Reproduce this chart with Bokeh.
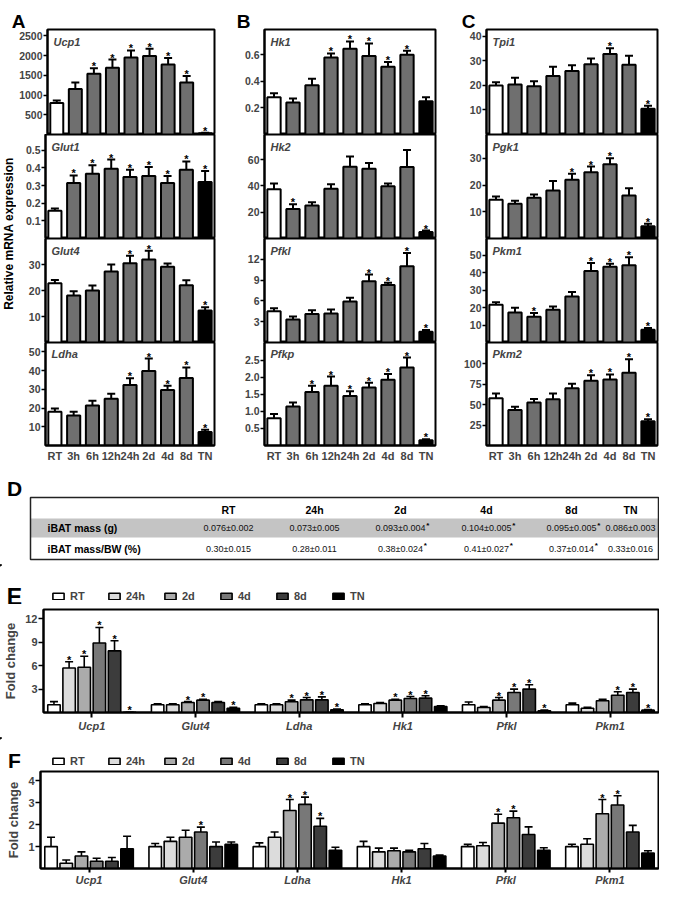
import numpy as np
from bokeh.plotting import figure
from bokeh.models import (ColumnDataSource, FactorRange, Range1d, FixedTicker, Whisker, TeeHead,
                          Label, Legend, LegendItem, NumeralTickFormatter)
from bokeh.layouts import column, row
from bokeh.transform import dodge
from bokeh.embed import file_html
from bokeh.resources import INLINE
from bokeh.core.properties import value

FONT = "Liberation Sans"

# ---------------- data: panels A-C ----------------
times = ["RT", "3h", "6h", "12h", "24h", "2d", "4d", "8d", "TN"]

ucp1 = [800, 1150, 1540, 1690, 1950, 1990, 1775, 1320, 30]
ucp1_err = [60, 170, 140, 210, 180, 180, 160, 160, 15]
ucp1_sig = [0, 0, 1, 1, 1, 1, 1, 1, 1]

glut1 = [0.158, 0.315, 0.368, 0.396, 0.349, 0.355, 0.315, 0.390, 0.320]
glut1_err = [0.012, 0.043, 0.047, 0.052, 0.041, 0.050, 0.040, 0.047, 0.063]
glut1_sig = [0, 1, 1, 1, 1, 1, 1, 1, 1]

glut4 = [22.8, 18.1, 20.0, 27.3, 30.5, 31.9, 29.1, 22.0, 12.3]
glut4_err = [1.2, 1.6, 1.9, 2.7, 2.9, 3.4, 1.3, 1.9, 1.3]
glut4_sig = [0, 0, 0, 0, 1, 1, 0, 0, 1]

ldha = [18.0, 16.0, 21.3, 25.0, 32.3, 39.8, 29.6, 36.1, 7.2]
ldha_err = [1.8, 2.0, 2.6, 2.7, 3.6, 6.6, 2.3, 5.6, 1.2]
ldha_sig = [0, 0, 0, 0, 1, 1, 1, 1, 1]

hk1 = [0.28, 0.24, 0.37, 0.58, 0.645, 0.59, 0.51, 0.60, 0.25]
hk1_err = [0.03, 0.03, 0.05, 0.03, 0.055, 0.095, 0.035, 0.03, 0.03]
hk1_sig = [0, 0, 0, 1, 1, 1, 1, 1, 0]

hk2 = [37.5, 22.4, 25.0, 37.7, 54.5, 53.0, 39.7, 54.3, 5.0]
hk2_err = [4.3, 3.6, 2.5, 3.6, 7.7, 4.3, 2.1, 13.0, 1.0]
hk2_sig = [0, 1, 0, 0, 0, 0, 0, 0, 1]

pfkl = [4.5, 3.3, 4.1, 4.2, 5.9, 8.85, 8.3, 11.0, 1.55]
pfkl_err = [0.45, 0.45, 0.55, 0.55, 0.55, 0.95, 0.3, 1.9, 0.25]
pfkl_sig = [0, 0, 0, 0, 0, 1, 1, 1, 1]

pfkp = [0.80, 1.14, 1.57, 1.75, 1.45, 1.70, 1.93, 2.29, 0.155]
pfkp_err = [0.12, 0.12, 0.18, 0.27, 0.14, 0.14, 0.17, 0.29, 0.03]
pfkp_sig = [0, 0, 1, 1, 1, 1, 1, 1, 1]

tpi1 = [19.9, 20.3, 19.6, 23.8, 25.8, 28.6, 32.7, 28.4, 10.5]
tpi1_err = [1.3, 2.8, 2.1, 3.8, 2.4, 2.3, 2.4, 3.6, 1.2]
tpi1_sig = [0, 0, 0, 0, 0, 0, 1, 0, 1]

pgk1 = [14.5, 13.0, 15.25, 18.0, 22.0, 24.75, 27.75, 16.1, 4.6]
pgk1_err = [1.25, 1.1, 1.25, 3.5, 2.25, 2.15, 2.25, 2.65, 0.9]
pgk1_sig = [0, 0, 0, 0, 1, 1, 1, 0, 1]

pkm1 = [21.6, 17.2, 14.8, 18.8, 26.4, 41.0, 43.5, 44.3, 7.3]
pkm1_err = [1.5, 2.7, 2.2, 1.9, 2.6, 4.6, 1.7, 4.7, 1.0]
pkm1_sig = [0, 0, 1, 0, 0, 1, 1, 1, 1]

pkm2 = [57.8, 43.4, 52.6, 56.6, 69.9, 79.1, 80.7, 89.0, 29.7]
pkm2_err = [5.7, 4.0, 4.4, 6.9, 5.6, 6.9, 6.3, 16.6, 2.3]
pkm2_sig = [0, 0, 0, 0, 0, 1, 1, 1, 1]

# axis limits and tick labels
ucp1_ticks = [500, 1000, 1500, 2000, 2500]
glut1_ticks = [0.1, 0.2, 0.3, 0.4, 0.5]
glut4_ticks = [10, 20, 30]
ldha_ticks = [10, 20, 30, 40, 50]
hk1_ticks = [0.2, 0.4, 0.6]
hk2_ticks = [20, 40, 60]
pfkl_ticks = [3, 6, 9, 12]
pfkp_ticks = [0.5, 1.0, 1.5, 2.0, 2.5]
tpi1_ticks = [10, 20, 30, 40]
pgk1_ticks = [10, 20, 30]
pkm1_ticks = [10, 20, 30, 40, 50]
pkm2_ticks = [25, 50, 75, 100]
y_max = {"Ucp1": 2660, "Glut1": 0.59, "Glut4": 40, "Ldha": 55,
         "Hk1": 0.79, "Hk2": 79, "Pfkl": 15, "Pfkp": 3.02,
         "Tpi1": 42.7, "Pgk1": 38.9, "Pkm1": 59.7, "Pkm2": 126}

# ---------------- data: table D ----------------
d_cols = ["RT", "24h", "2d", "4d", "8d", "TN"]
d_rows = ["iBAT mass (g)", "iBAT mass/BW (%)"]
mass = ["0.076±0.002", "0.073±0.005", "0.093±0.004", "0.104±0.005", "0.095±0.005", "0.086±0.003"]
mass_sig = [0, 0, 1, 1, 1, 0]
ratio = ["0.30±0.015", "0.28±0.011", "0.38±0.024", "0.41±0.027", "0.37±0.014", "0.33±0.016"]
ratio_sig = [0, 0, 1, 1, 1, 0]

# ---------------- data: panels E, F ----------------
genes = ["Ucp1", "Glut4", "Ldha", "Hk1", "Pfkl", "Pkm1"]
times_ef = ["RT", "24h", "2d", "4d", "8d", "TN"]

e_rt = [1.0, 1.0, 1.0, 1.0, 1.0, 1.0]
e_rt_err = [0.4, 0.12, 0.12, 0.12, 0.35, 0.2]
e_24h = [5.7, 1.0, 1.0, 1.15, 0.64, 0.55]
e_24h_err = [0.8, 0.12, 0.12, 0.13, 0.13, 0.13]
e_2d = [5.8, 1.28, 1.37, 1.58, 1.58, 1.5]
e_2d_err = [1.4, 0.12, 0.21, 0.12, 0.34, 0.2]
e_4d = [8.9, 1.58, 1.62, 1.8, 2.56, 2.22]
e_4d_err = [2.0, 0.12, 0.3, 0.25, 0.44, 0.43]
e_8d = [7.9, 1.28, 1.62, 1.84, 3.0, 2.56]
e_8d_err = [1.3, 0.12, 0.38, 0.3, 0.55, 0.44]
e_tn = [0.02, 0.55, 0.35, 0.77, 0.21, 0.3]
e_tn_err = [0.02, 0.13, 0.1, 0.08, 0.09, 0.08]
e_sig = [[0, 0, 0, 0, 0, 0], [1, 0, 0, 0, 0, 0], [1, 1, 1, 1, 1, 0],
         [1, 1, 1, 1, 1, 1], [1, 0, 1, 1, 1, 1], [1, 1, 1, 0, 1, 1]]
e_ticks = [3, 6, 9, 12]
e_ymax = 13.2

f_rt = [1.0, 1.0, 1.0, 1.0, 1.0, 1.0]
f_rt_err = [0.43, 0.14, 0.17, 0.24, 0.1, 0.11]
f_24h = [0.24, 1.24, 1.43, 0.76, 1.04, 1.11]
f_24h_err = [0.15, 0.19, 0.24, 0.17, 0.15, 0.25]
f_2d = [0.57, 1.43, 2.65, 0.81, 2.07, 2.5]
f_2d_err = [0.19, 0.32, 0.5, 0.12, 0.41, 0.65]
f_4d = [0.33, 1.67, 2.93, 0.76, 2.32, 2.9]
f_4d_err = [0.14, 0.22, 0.33, 0.07, 0.3, 0.42]
f_8d = [0.33, 1.0, 1.93, 0.9, 1.55, 1.67]
f_8d_err = [0.17, 0.21, 0.36, 0.24, 0.35, 0.3]
f_tn = [0.9, 1.1, 0.83, 0.57, 0.83, 0.71]
f_tn_err = [0.57, 0.11, 0.14, 0.04, 0.12, 0.1]
f_sig = [[0, 0, 0, 0, 0, 0], [0, 0, 0, 0, 0, 0], [0, 0, 1, 0, 1, 1],
         [0, 1, 1, 0, 1, 1], [0, 0, 1, 0, 0, 0], [0, 0, 0, 0, 0, 0]]
f_ticks = [1, 2, 3, 4]
f_ymax = 4.43

# ---------------- styles ----------------
bar_colors = ["white"] + ["#6f6f6f"] * 7 + ["black"]
ef_colors = ["white", "#dcdcdc", "#ababab", "#787878", "#3c3c3c", "black"]


def blank_fig(w, h, top_y):
    """Figure whose data units are page pixels: x from 8, y measured downward (stored negated)."""
    p = figure(width=w, height=h, x_range=Range1d(8, 8 + w),
               y_range=Range1d(-(top_y + h), -top_y), output_backend="svg",
               toolbar_location=None, x_axis_location=None, y_axis_location=None,
               min_border=0, outline_line_color=None, title_location=None, frame_align=False)
    p.grid.grid_line_color = None
    return p


def ny(vals):
    return [-v for v in vals]


def style_y(p, ticks, fmt=None, fs="10.5px", tick_out=4):
    ax = p.yaxis[0]
    ax.ticker = FixedTicker(ticks=ticks)
    if fmt:
        ax.formatter = NumeralTickFormatter(format=fmt)
    ax.major_label_text_font = FONT
    ax.major_label_text_font_size = fs
    ax.major_label_text_font_style = "bold"
    ax.major_tick_out = tick_out
    ax.major_tick_in = 0
    ax.major_tick_line_width = 1.5
    ax.minor_tick_line_color = None
    ax.axis_line_width = 2
    ax.major_label_standoff = 1


def stack_fig(width, height, bl, br, bt, bb, gene, vals, errs, sig, ticks, fmt=None,
              show_x=False):
    fh = height - bt - bb
    p = figure(width=width, height=height, x_range=FactorRange(*times, range_padding=0),
               y_range=Range1d(0, y_max[gene]), output_backend="svg", toolbar_location=None,
               x_axis_location="below" if show_x else None, y_axis_location="left",
               min_border_left=bl, min_border_right=br, min_border_top=bt, min_border_bottom=bb,
               title_location=None, frame_align=False)
    up = [v + e for v, e in zip(vals, errs)]
    src = ColumnDataSource(dict(x=times, top=vals, up=up, color=bar_colors))
    p.vbar(x="x", top="top", width=0.7, fill_color="color", line_color="black",
           line_width=2, source=src)
    p.add_layout(Whisker(base="x", lower="top", upper="up", source=src, line_color="black",
                         line_width=2, level="annotation",
                         upper_head=TeeHead(size=8, line_width=2, line_color="black"),
                         lower_head=None))
    sx = [t for t, s in zip(times, sig) if s]
    sy = [u for u, s in zip(up, sig) if s]
    p.text(x=sx, y=sy, text=["*"] * len(sx), text_align="center",
           text_baseline="alphabetic", y_offset=-2, text_font_size="11px",
           text_font_style="bold", text_font=value(FONT), text_color="black")
    p.add_layout(Label(x=6, y=fh - 6, x_units="screen", y_units="screen", text=gene,
                       text_baseline="top", text_align="left", text_font=FONT,
                       text_font_size="11px", text_font_style="bold italic"))
    p.grid.grid_line_color = None
    p.outline_line_color = "black"
    p.outline_line_width = 2
    p.outline_line_alpha = 1
    style_y(p, ticks, fmt)
    if show_x:
        ax = p.xaxis[0]
        ax.major_tick_line_color = None
        ax.major_tick_out = 0
        ax.major_tick_in = 0
        ax.axis_line_width = 2
        ax.major_label_standoff = 4
        ax.major_label_text_font = FONT
        ax.major_label_text_font_size = "11px"
        ax.major_label_text_font_style = "bold"
    return p


def make_stack(width, bl, br, specs):
    heights = [106, 104, 104, 122]
    tops = [1, 0, 0, 0]
    bots = [0, 0, 0, 18]
    figs = []
    for i, (gene, vals, errs, sig, ticks, fmt) in enumerate(specs):
        figs.append(stack_fig(width, heights[i], bl, br, tops[i], bots[i], gene, vals, errs,
                              sig, ticks, fmt, show_x=(i == 3)))
    return column(*figs, spacing=0)


colA = make_stack(206, 29, 8, [
    ("Ucp1", ucp1, ucp1_err, ucp1_sig, ucp1_ticks, None),
    ("Glut1", glut1, glut1_err, glut1_sig, glut1_ticks, None),
    ("Glut4", glut4, glut4_err, glut4_sig, glut4_ticks, None),
    ("Ldha", ldha, ldha_err, ldha_sig, ldha_ticks, None)])
colB = make_stack(215, 42, 2, [
    ("Hk1", hk1, hk1_err, hk1_sig, hk1_ticks, None),
    ("Hk2", hk2, hk2_err, hk2_sig, hk2_ticks, None),
    ("Pfkl", pfkl, pfkl_err, pfkl_sig, pfkl_ticks, None),
    ("Pfkp", pfkp, pfkp_err, pfkp_sig, pfkp_ticks, "0.0")])
colC = make_stack(222, 49, 2, [
    ("Tpi1", tpi1, tpi1_err, tpi1_sig, tpi1_ticks, None),
    ("Pgk1", pgk1, pgk1_err, pgk1_sig, pgk1_ticks, None),
    ("Pkm1", pkm1, pkm1_err, pkm1_sig, pkm1_ticks, None),
    ("Pkm2", pkm2, pkm2_err, pkm2_sig, pkm2_ticks, None)])

# y label for the A-C block
labfig = figure(width=16, height=436, x_range=Range1d(0, 16), y_range=Range1d(0, 436),
                output_backend="svg", toolbar_location=None, x_axis_location=None,
                y_axis_location=None, min_border=0, outline_line_color=None,
                title_location=None, frame_align=False)
labfig.grid.grid_line_color = None
labfig.text(x=[8], y=[231], text=["Relative mRNA expression"], angle=np.pi / 2,
            text_align="center", text_baseline="middle", text_font=value(FONT),
            text_font_size="12px", text_font_style="bold", text_color="black")

# panel letters A, B, C
head = blank_fig(659, 28, 8)
head.text(x=[26, 251, 476], y=ny([29, 29, 29]), text=["A", "B", "C"], text_align="center",
          text_baseline="alphabetic", text_font=value(FONT), text_font_size="19px",
          text_font_style="bold", text_color="black")

top_row = row(labfig, colA, colB, colC, spacing=0)

# ---------------- table D ----------------
dfig = blank_fig(659, 100, 472)
dfig.text(x=[22], y=ny([496]), text=["D"], text_align="center", text_baseline="alphabetic",
          text_font=value(FONT), text_font_size="21px", text_font_style="bold")
box_l, box_r, box_t, box_b = 38, 666, 505, 567
band_t, band_b = 526, 545
col_x = [236, 322, 408, 494, 579, 638]
row_y = [535.5, 556]
dfig.quad(left=[box_l], right=[box_r], top=ny([band_t]), bottom=ny([band_b]),
          fill_color="#c4c4c4", line_color=None)
dfig.quad(left=[box_l], right=[box_r], top=ny([box_t]), bottom=ny([box_b]), fill_color=None,
          line_color="#222222", line_width=1.5)
dfig.text(x=col_x, y=ny([517] * 6), text=d_cols, text_align="center", text_baseline="middle",
          text_font=value(FONT), text_font_size="10.5px", text_font_style="bold")
dfig.text(x=[55, 55], y=ny(row_y), text=d_rows, text_align="left", text_baseline="middle",
          text_font=value(FONT), text_font_size="10.5px", text_font_style="bold")


def str_w(s, fs=10.0):
    w = 0
    for c in s:
        w += 5.56 if c.isdigit() else (2.78 if c == "." else 5.84)
    return w * fs / 10


VAL_FS = 9.0
for vals, sig, yy in [(mass, mass_sig, row_y[0]), (ratio, ratio_sig, row_y[1])]:
    dfig.text(x=col_x, y=ny([yy] * 6), text=vals, text_align="center", text_baseline="middle",
              text_font=value(FONT), text_font_size=f"{VAL_FS}px", text_color="#111111")
    sx = [cx + str_w(v, VAL_FS) / 2 + 0.5 for cx, v, s in zip(col_x, vals, sig) if s]
    dfig.text(x=sx, y=ny([yy - 3] * len(sx)), text=["*"] * len(sx), text_align="left",
              text_baseline="middle", text_font=value(FONT), text_font_size="8px",
              text_font_style="bold")


# ---------------- panels E, F ----------------
def fold_header(height, letter, letter_size, letter_base, top_y, legend_vy):
    h = blank_fig(659, height, top_y)
    h.text(x=[22], y=ny([letter_base]), text=[letter], text_align="center",
           text_baseline="alphabetic", text_font=value(FONT), text_font_size=letter_size,
           text_font_style="bold")
    items = []
    for k, t in enumerate(times_ef):
        # off-screen swatch carrier so that the legend can draw its box
        r = h.vbar(x=[-100], top=ny([top_y]), bottom=ny([top_y + 1]), width=1,
                   fill_color=ef_colors[k], line_color="black", line_width=1.6)
        items.append(LegendItem(label=t, renderers=[r], index=0))
    legend = Legend(items=items, location=(51, legend_vy), orientation="horizontal",
                    glyph_width=14, glyph_height=8, label_standoff=5, spacing=17, padding=0,
                    margin=0, label_height=12, label_width=20, border_line_alpha=0,
                    background_fill_alpha=0, label_text_font=FONT, label_text_font_size="11px",
                    label_text_font_style="bold")
    h.add_layout(legend)
    return h


def fold_fig(height, bt, bb, ymax, ticks, series, errs, sigs, tick_out=5, standoff=2):
    p = figure(width=659, height=height,
               x_range=FactorRange(*genes, range_padding=-0.034, range_padding_units="absolute"),
               y_range=Range1d(0, ymax), output_backend="svg", toolbar_location=None,
               min_border_left=40, min_border_right=1, min_border_top=bt, min_border_bottom=bb,
               title_location=None, frame_align=False)
    for k, t in enumerate(times_ef):
        off = (k - 2.5) * 0.146
        up = [v + e for v, e in zip(series[k], errs[k])]
        src = ColumnDataSource(dict(gene=genes, top=series[k], up=up))
        xd = dodge("gene", off, range=p.x_range)
        p.vbar(x=xd, top="top", width=0.12, source=src, fill_color=ef_colors[k],
               line_color="black", line_width=1.6)
        p.add_layout(Whisker(base=xd, lower="top", upper="up", source=src, line_color="black",
                             line_width=1.6, level="annotation",
                             upper_head=TeeHead(size=8, line_width=1.6, line_color="black"),
                             lower_head=None))
        ssrc = ColumnDataSource(dict(gene=[g for g, s in zip(genes, sigs[k]) if s],
                                     up=[u for u, s in zip(up, sigs[k]) if s]))
        p.text(x=dodge("gene", off, range=p.x_range), y="up", text=value("*"), source=ssrc,
               text_align="center", text_baseline="alphabetic", y_offset=-2,
               text_font_size="11px", text_font_style="bold", text_font=value(FONT),
               text_color="black")
    p.grid.grid_line_color = None
    p.outline_line_color = "black"
    p.outline_line_width = 2
    style_y(p, ticks, fs="11px", tick_out=5)
    ya = p.yaxis[0]
    ya.axis_label = "Fold change"
    ya.axis_label_text_font = FONT
    ya.axis_label_text_font_size = "13px"
    ya.axis_label_text_font_style = "bold"
    ya.axis_label_standoff = 4
    xa = p.xaxis[0]
    xa.major_tick_out = tick_out
    xa.major_tick_in = 0
    xa.major_tick_line_width = 2
    xa.axis_line_width = 2
    xa.major_label_standoff = standoff
    xa.major_label_text_font = FONT
    xa.major_label_text_font_size = "11px"
    xa.major_label_text_font_style = "bold italic"
    return p


ehead = fold_header(40, "E", "23px", 604, 572, 2)
efig = fold_fig(133, 5, 25, e_ymax, e_ticks,
                [e_rt, e_24h, e_2d, e_4d, e_8d, e_tn],
                [e_rt_err, e_24h_err, e_2d_err, e_4d_err, e_8d_err, e_tn_err], e_sig)
fhead = fold_header(31, "F", "21px", 768, 745, 1.5)
ffig = fold_fig(121, 3, 21, f_ymax, f_ticks,
                [f_rt, f_24h, f_2d, f_4d, f_8d, f_tn],
                [f_rt_err, f_24h_err, f_2d_err, f_4d_err, f_8d_err, f_tn_err], f_sig,
                tick_out=4, standoff=1)

page = column(head, top_row, dfig, ehead, efig, fhead, ffig, spacing=0)

open("out.html", "w").write(file_html(page, INLINE))
